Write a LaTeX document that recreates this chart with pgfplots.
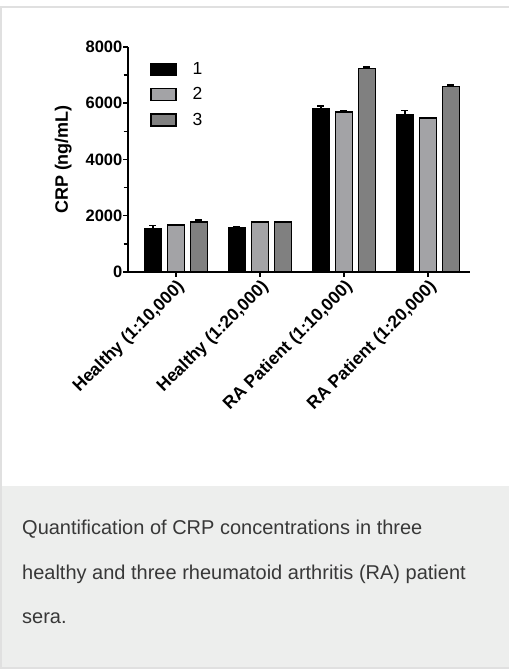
\documentclass[border=0pt]{standalone}
\usepackage{fontspec}
\setmainfont{Liberation Sans}
\usepackage{pgfplots}
\pgfplotsset{compat=1.18}
\definecolor{bordergray}{HTML}{E0E0E0}
\definecolor{capbg}{HTML}{EDEEED}
\definecolor{captext}{HTML}{383838}
\definecolor{lightbar}{HTML}{A3A3A6}
\definecolor{darkbar}{HTML}{808080}
\begin{document}
\begin{tikzpicture}[x=1bp,y=1bp]
\useasboundingbox (0,0) rectangle (509,669);
\fill[white] (0,0) rectangle (509,669);
\fill[capbg] (0,0) rectangle (509,183);
\draw[bordergray, line width=2bp] (1,0) -- (1,662) -- (509,662);
\draw[bordergray, line width=1.5bp] (0,0.75) -- (509,0.75);
\begin{axis}[
  at={(128bp,397bp)}, anchor=south west,
  scale only axis, width=342bp, height=225bp,
  xmin=-0.57, xmax=3.5, ymin=0, ymax=8000,
  axis lines=left,
  axis line style={line width=1.6bp, -},
  ybar, bar width=17bp,
  xtick={0,1,2,3},
  xticklabels={Healthy (1:10{,}000),Healthy (1:20{,}000),RA Patient (1:10{,}000),RA Patient (1:20{,}000)},
  ytick={0,2000,4000,6000,8000},
  minor y tick num=1,
  tick align=outside,
  major tick length=5bp, minor tick length=4.5bp,
  tick style={line width=1.5bp, black},
  /pgf/number format/assume math mode=true,
  /pgf/number format/set thousands separator={},
  yticklabel style={font=\bfseries\fontsize{16.5bp}{18bp}\selectfont, inner sep=0.5bp},
  xticklabel style={font=\bfseries\fontsize{17.5bp}{19bp}\selectfont, rotate=45, anchor=north east, inner sep=1bp},
  ylabel={CRP (ng/mL)},
  ylabel style={font=\bfseries\fontsize{18bp}{20bp}\selectfont, yshift=10bp},
  error bars/y dir=plus, error bars/y explicit,
  error bars/error bar style={line width=1.5bp, black},
  error bars/error mark options={rotate=90, mark size=3.5bp, line width=1.5bp, black},
  legend image code/.code={\draw[#1, line width=1.5bp] (0bp,-6bp) rectangle (25bp,6bp);},
  legend style={draw=none, fill=none, at={(rel axis cs:0.064,0.94)}, anchor=north west,
    font=\fontsize{17.5bp}{19bp}\selectfont, row sep=7.5bp, column sep=14bp, inner sep=0bp},
  legend cell align=left,
]
\addplot[draw=black, fill=black, line width=1.5bp, bar shift=-23bp] coordinates {
  (0,1550) +- (0,100)
  (1,1580) +- (0,15)
  (2,5790) +- (0,110)
  (3,5590) +- (0,150)
};
\addplot[draw=black, fill=lightbar, line width=1.5bp, bar shift=0bp] coordinates {
  (0,1670) +- (0,15)
  (1,1780) +- (0,10)
  (2,5680) +- (0,70)
  (3,5470) +- (0,10)
};
\addplot[draw=black, fill=darkbar, line width=1.5bp, bar shift=23bp] coordinates {
  (0,1770) +- (0,80)
  (1,1780) +- (0,10)
  (2,7230) +- (0,65)
  (3,6600) +- (0,50)
};
\legend{1,2,3}
\end{axis}
\begin{scope}[every node/.style={anchor=base west, inner sep=0pt, text=captext, font=\fontsize{20bp}{24bp}\selectfont}]
\node at (22,134) {Quantification of CRP concentrations in three};
\node at (22,89) {healthy and three rheumatoid arthritis (RA) patient};
\node at (22,45) {sera.};
\end{scope}
\end{tikzpicture}
\end{document}
